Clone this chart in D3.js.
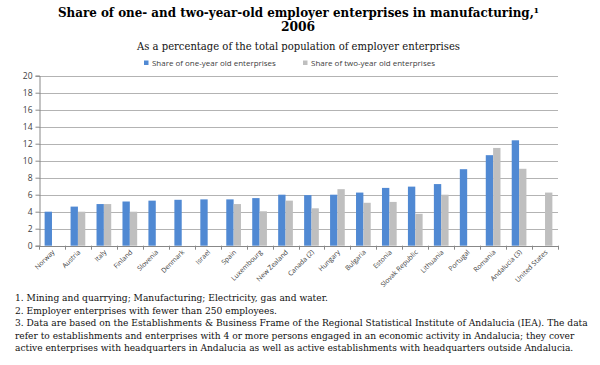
<!DOCTYPE html>
<html><head><meta charset="utf-8">
<script src="https://cdn.jsdelivr.net/npm/d3@7"></script>
<style>body{margin:0;background:#fff}svg{display:block}</style>
</head><body>
<script>
const categories = ["Norway","Austria","Italy","Finland","Slovenia","Denmark","Israel","Spain","Luxembourg","New Zealand","Canada (2)","Hungary","Bulgaria","Estonia","Slovak Republic","Lithuania","Portugal","Romania","Andalucia (3)","United States"];
const oneYear = [4.0,4.6,4.9,5.2,5.3,5.4,5.45,5.45,5.6,6.0,5.95,6.0,6.25,6.8,6.95,7.25,9.0,10.65,12.4,null];
const twoYear = [null,4.0,4.9,4.0,null,null,null,4.9,4.05,5.3,4.4,6.65,5.05,5.15,3.75,6.0,null,11.5,9.05,6.25];
const seriesNames = ["Share of one-year old enterprises","Share of two-year old enterprises"];
const yTicks = [0,2,4,6,8,10,12,14,16,18,20];
const titleLines = ["Share of one- and two-year-old employer enterprises in manufacturing,\u00B9","2006"];
const subtitle = "As a percentage of the total population of employer enterprises";
const notes = [
 "1. Mining and quarrying; Manufacturing; Electricity, gas and water.",
 "2. Employer enterprises with fewer than 250 employees.",
 "3. Data are based on the Establishments & Business Frame of the Regional Statistical Institute of Andalucia (IEA). The data",
 "refer to establishments and enterprises with 4 or more persons engaged in an economic activity in Andalucia; they cover",
 "active enterprises with headquarters in Andalucia as well as active establishments with headquarters outside Andalucia."
];

const W=600,H=365;
const svg=d3.select("body").append("svg").attr("width",W).attr("height",H);
const serif="'DejaVu Serif', Georgia, serif";
const sans="'Open Sans','Liberation Sans',sans-serif";

function squeeze(sel, target){
  const w=sel.node().getComputedTextLength();
  if(w>target) sel.attr("textLength",target).attr("lengthAdjust","spacingAndGlyphs");
}
function fit(sel, target){
  const w=sel.node().getComputedTextLength();
  const fs=parseFloat(sel.attr("font-size"));
  sel.attr("font-size",(fs*target/w).toFixed(2));
}

// title
const t1=svg.append("text").attr("x",298.5).attr("y",16.5).attr("text-anchor","middle")
 .attr("font-family",serif).attr("font-weight","bold").attr("font-size",12.3).attr("fill","#000").text(titleLines[0]);
squeeze(t1,481);
svg.append("text").attr("x",298).attr("y",30.5).attr("text-anchor","middle")
 .attr("font-family",serif).attr("font-weight","bold").attr("font-size",12.3).attr("fill","#000").text(titleLines[1]);
const st=svg.append("text").attr("x",298.5).attr("y",50).attr("text-anchor","middle")
 .attr("font-family",serif).attr("font-size",11.3).attr("fill","#111").text(subtitle);
squeeze(st,323);

const x0=39,x1=558,yTop=75.7,yBot=245.7;
const x=d3.scaleBand().domain(categories).range([x0,x1]).paddingInner(0).paddingOuter(0);
const xs=d3.scaleBand().domain([0,1]).range([0,x.bandwidth()]).paddingInner(0).paddingOuter(0.765);
const y=d3.scaleLinear().domain([0,20]).range([yBot,yTop]);
const colors=["#5089D3","#BFBFBF"];

// legend
const legX=[144,303];
seriesNames.forEach((n,i)=>{
  svg.append("rect").attr("x",legX[i]).attr("y",60.5).attr("width",4.5).attr("height",4.5).attr("fill",colors[i]);
  const lt=svg.append("text").attr("x",legX[i]+8).attr("y",65.5).attr("font-family",sans).attr("font-size",7).attr("fill","#404040").text(n);
  fit(lt,124);
});

// gridlines
svg.append("g").selectAll("line").data(yTicks.filter(d=>d>0)).join("line")
 .attr("x1",x0).attr("x2",x1).attr("y1",d=>Math.round(y(d))+0.5).attr("y2",d=>Math.round(y(d))+0.5)
 .attr("stroke","#B3B3B3").attr("stroke-width",1);

// bars
const data=[oneYear,twoYear];
data.forEach((arr,si)=>{
  svg.append("g").selectAll("rect").data(categories.map((c,i)=>({c,v:arr[i]})).filter(d=>d.v!=null)).join("rect")
   .attr("x",d=>x(d.c)+xs(si)).attr("width",xs.bandwidth())
   .attr("y",d=>y(d.v)).attr("height",d=>y(0)-y(d.v)).attr("fill",colors[si]);
});

// y axis
const yAxis=d3.axisLeft(y).tickValues(yTicks).tickSize(4).tickPadding(3);
const ya=svg.append("g").attr("transform",`translate(${x0+0.5},0)`).call(yAxis);
ya.select(".domain").attr("stroke","#888");
ya.selectAll(".tick line").attr("stroke","#888");
ya.selectAll("text").attr("font-family",sans).attr("font-size",8.5).attr("fill","#404040");

// x axis
svg.append("line").attr("x1",x0).attr("x2",x1).attr("y1",Math.round(yBot)+0.5).attr("y2",Math.round(yBot)+0.5).attr("stroke","#888");
const bounds=categories.map(c=>x(c)).concat([x1]);
svg.append("g").selectAll("line").data(bounds).join("line")
 .attr("x1",d=>Math.round(d)+0.5).attr("x2",d=>Math.round(d)+0.5).attr("y1",yBot).attr("y2",yBot+4).attr("stroke","#888");
svg.append("g").selectAll("text").data(categories).join("text")
 .attr("transform",d=>`translate(${x(d)+x.bandwidth()/2+3},${yBot+7}) rotate(-45)`)
 .attr("text-anchor","end").attr("font-family",sans).attr("font-size",6.8).attr("fill","#404040").text(d=>d);

// notes
const ny=[301,313.5,326,338.5,351];
const probe=svg.append("text").attr("font-family",serif).attr("font-size",10).text(notes[2]);
const noteFs=(10*573/probe.node().getComputedTextLength()).toFixed(2);
probe.remove();
notes.forEach((n,i)=>{
  svg.append("text").attr("x",15).attr("y",ny[i]).attr("font-family",serif).attr("font-size",noteFs).attr("fill","#111").text(n);
});
</script>
</body></html>
